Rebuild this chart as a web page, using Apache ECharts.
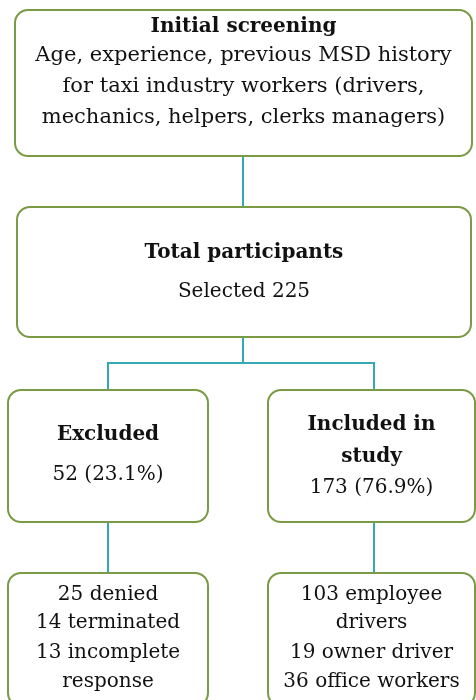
<!DOCTYPE html>
<html>
<head>
<meta charset="utf-8">
<script src="https://cdn.jsdelivr.net/npm/echarts@6/dist/echarts.min.js"></script>
<style>
  html, body { margin: 0; padding: 0; background: #fff; }
  #chart { width: 476px; height: 700px; }
</style>
</head>
<body>
<div id="chart"></div>
<script>
// flowchart content
const boxTitles = ['Initial screening', 'Total participants', 'Excluded', 'Included in', '', ''];
const boxLines = [
  ['Age, experience, previous MSD history', 'for taxi industry workers (drivers,', 'mechanics, helpers, clerks managers)'],
  ['Selected 225'],
  ['52 (23.1%)'],
  ['study', '173 (76.9%)'],
  ['25 denied', '14 terminated', '13 incomplete', 'response'],
  ['103 employee', 'drivers', '19 owner driver', '36 office workers']
];
const boldLines = [[], [], [], [0], [], []]; // body lines drawn bold
const links = [[0, 1], [1, 2], [1, 3], [2, 4], [3, 5]];

// layout (pixels, y down)
const boxRect = [
  [15, 10, 472, 156],
  [17, 207, 471, 337],
  [8, 390, 208, 522],
  [268, 390, 475, 522],
  [8, 573, 208, 706],
  [268, 573, 475, 706]
];
const lineY = [
  [27, 56, 87, 118],
  [253, 292],
  [435, 475],
  [425, 457, 488],
  [595, 623, 653, 682],
  [595, 623, 653, 682]
];
const bodySize = [21, 20, 20, 20, 20, 20];
const anchorX = [243, 243, 108, 374, 108, 374];
const branchY = 363;

const BORDER = '#7A9A45';
const LINK = '#35AAB6';
const FONT = 'DejaVu Serif';

const chart = echarts.init(document.getElementById('chart'));

const boxData = boxRect.map((r, i) => r.concat([i]));

const linkData = links.map(([a, b]) => {
  const x0 = anchorX[a], y0 = boxRect[a][3];
  const x1 = anchorX[b], y1 = boxRect[b][1];
  if (x0 === x1) return { coords: [[x0, y0], [x1, y1]] };
  return { coords: [[x0, y0], [x0, branchY], [x1, branchY], [x1, y1]] };
});

function renderBox(params, api) {
  const i = api.value(4);
  const p0 = api.coord([api.value(0), api.value(1)]);
  const p1 = api.coord([api.value(2), api.value(3)]);
  const cx = (p0[0] + p1[0]) / 2;
  const children = [{
    type: 'rect',
    shape: { x: p0[0], y: p0[1], width: p1[0] - p0[0], height: p1[1] - p0[1], r: 13 },
    style: { fill: '#fff', stroke: BORDER, lineWidth: 2 }
  }];
  const texts = [];
  if (boxTitles[i]) texts.push({ t: boxTitles[i], bold: true });
  boxLines[i].forEach((t, k) => texts.push({ t: t, bold: boldLines[i].indexOf(k) >= 0 }));
  texts.forEach((item, k) => {
    const y = api.coord([0, lineY[i][k]])[1];
    const size = item.bold ? 20 : bodySize[i];
    children.push({
      type: 'text',
      x: cx,
      y: y,
      style: {
        text: item.t,
        fill: '#111',
        font: (item.bold ? 'bold ' : '') + size + 'px "' + FONT + '"',
        align: 'center',
        verticalAlign: 'middle'
      }
    });
  });
  return { type: 'group', children: children };
}

const option = {
  animation: false,
  grid: { left: 0, right: 0, top: 0, bottom: 0 },
  xAxis: { type: 'value', min: 0, max: 476, show: false },
  yAxis: { type: 'value', min: 0, max: 700, inverse: true, show: false },
  series: [
    {
      type: 'lines',
      coordinateSystem: 'cartesian2d',
      polyline: true,
      z: 1,
      lineStyle: { color: LINK, width: 2, opacity: 1 },
      data: linkData
    },
    {
      type: 'custom',
      z: 2,
      renderItem: renderBox,
      data: boxData
    }
  ]
};

chart.setOption(option);
</script>
</body>
</html>
